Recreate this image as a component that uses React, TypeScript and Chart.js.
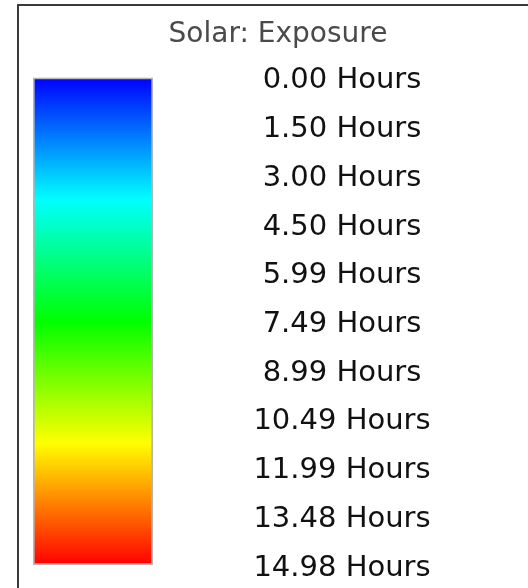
import React, { useEffect, useRef } from "react";
import { Chart, registerables } from "chart.js";

Chart.register(...registerables);

const TITLE = "Solar: Exposure";
const CATEGORIES = ["Solar: Exposure"];
const RANGE_MIN = 0;
const RANGE_MAX = 14.98;
const TICK_VALUES = [0, 1.5, 3.0, 4.5, 5.99, 7.49, 8.99, 10.49, 11.99, 13.48, 14.98];
const UNIT = "Hours";
const GRADIENT_STOPS = [0, 0.25, 0.5, 0.75, 1];
const GRADIENT_COLORS = ["#0000ff", "#00ffff", "#00ff00", "#ffff00", "#ff0000"];

const W = 528;
const H = 588;
const LABEL_FONT = { family: "'DejaVu Sans', sans-serif", size: 29 };
const TITLE_FONT = { family: "'DejaVu Sans', sans-serif", size: 28 };
const BAR_LEFT = 33;
const BAR_RIGHT = 153;
const LABEL_CENTER = 342;

export default function App() {
  const ref = useRef<HTMLCanvasElement | null>(null);

  useEffect(() => {
    const canvas = ref.current;
    if (!canvas) return;

    // measure widest tick label to center labels at LABEL_CENTER
    const m = document.createElement("canvas").getContext("2d")!;
    m.font = `${LABEL_FONT.size}px ${LABEL_FONT.family}`;
    const labels = TICK_VALUES.map((v) => `${v.toFixed(2)} ${UNIT}`);
    const widest = Math.max(...labels.map((t) => m.measureText(t).width));
    const tickGap = LABEL_CENTER - BAR_RIGHT - widest / 2;
    const padRight = 5;
    const axisWidth = W - padRight - BAR_RIGHT;

    const framePlugin = {
      id: "frame",
      beforeDraw(chart: any) {
        const c = chart.ctx;
        c.save();
        c.fillStyle = "#ffffff";
        c.fillRect(0, 0, W, H);
        c.strokeStyle = "#3a3a3a";
        c.lineWidth = 2;
        c.beginPath();
        c.moveTo(18, H);
        c.lineTo(18, 5);
        c.lineTo(W, 5);
        c.stroke();
        c.restore();
      },
    };

    const chart = new Chart(canvas, {
      type: "bar",
      data: {
        labels: CATEGORIES,
        datasets: [
          {
            data: [[RANGE_MIN, RANGE_MAX]] as any,
            backgroundColor: (ctx: any) => {
              const ch = ctx.chart;
              const area = ch.chartArea;
              if (!area) return GRADIENT_COLORS[0];
              const ys = ch.scales.y;
              const g = ch.ctx.createLinearGradient(
                0,
                ys.getPixelForValue(RANGE_MIN),
                0,
                ys.getPixelForValue(RANGE_MAX)
              );
              GRADIENT_STOPS.forEach((s, i) => g.addColorStop(s, GRADIENT_COLORS[i]));
              return g;
            },
            borderColor: "#b5b5b5",
            borderWidth: 2,
            borderSkipped: false,
            barPercentage: 1,
            categoryPercentage: 1,
          },
        ],
      },
      options: {
        responsive: false,
        animation: false,
        layout: { padding: { left: BAR_LEFT, right: padRight, top: 0, bottom: 23 } },
        plugins: {
          legend: { display: false },
          tooltip: { enabled: false },
          title: {
            display: true,
            text: TITLE,
            color: "#4a4a4a",
            font: { ...TITLE_FONT, weight: "normal" },
            padding: { top: 18, bottom: 26 },
          },
        },
        scales: {
          x: { display: false },
          y: {
            position: "right",
            min: RANGE_MIN,
            max: RANGE_MAX,
            reverse: true,
            border: { display: false },
            grid: { display: false, drawTicks: true, tickLength: tickGap },
            afterBuildTicks: (scale: any) => {
              scale.ticks = TICK_VALUES.map((v) => ({ value: v }));
            },
            afterFit: (scale: any) => {
              scale.width = axisWidth;
            },
            ticks: {
              autoSkip: false,
              crossAlign: "center",
              padding: 0,
              labelOffset: 3,
              color: "#111111",
              font: LABEL_FONT,
              callback: (v: any) => `${Number(v).toFixed(2)} ${UNIT}`,
            },
          },
        },
      },
      plugins: [framePlugin],
    });

    return () => chart.destroy();
  }, []);

  return (
    <div style={{ position: "absolute", left: 0, top: 0, width: W, height: H, background: "#fff" }}>
      <canvas ref={ref} width={W} height={H} style={{ display: "block", width: W, height: H }} />
    </div>
  );
}
